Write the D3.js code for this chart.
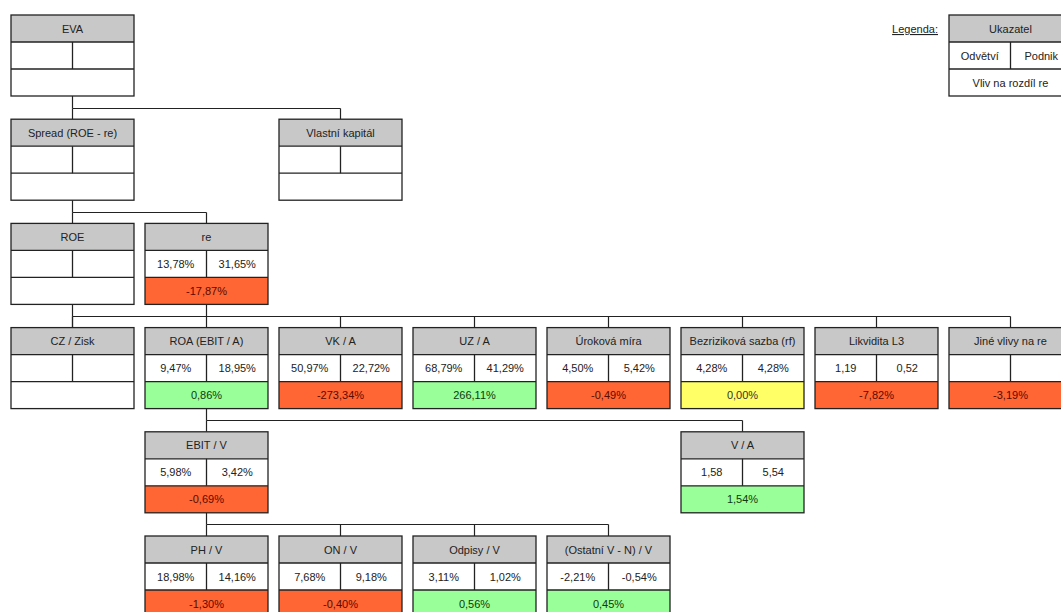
<!DOCTYPE html>
<html>
<head>
<meta charset="utf-8">
<script src="https://cdn.jsdelivr.net/npm/d3@7"></script>
<style>
  html, body { margin: 0; padding: 0; background: #fff; }
  svg { display: block; }
  text { font-family: "Liberation Sans", Arial, sans-serif; font-size: 11px; }
</style>
</head>
<body>
<svg id="chart" width="1061" height="612"></svg>
<script>
// ---- data ----
const ids      = ["EVA","SPREAD","VK","ROE","RE","CZ","ROA","VKA","UZA","URM","RF","L3","JINE","EBITV","VA","PHV","ONV","ODPV","OSTV"];
const labels   = ["EVA","Spread (ROE - re)","Vlastní kapitál","ROE","re","CZ / Zisk","ROA (EBIT / A)","VK / A","UZ / A","Úroková míra","Bezriziková sazba (rf)","Likvidita L3","Jiné vlivy na re","EBIT / V","V / A","PH / V","ON / V","Odpisy / V","(Ostatní V - N) / V"];
const columns  = [0,0,2,0,1,0,1,2,3,4,5,6,7,1,5,1,2,3,4];
const levels   = [0,1,1,2,2,3,3,3,3,3,3,3,3,4,4,5,5,5,5];
const odvetvi  = [null,null,null,null,13.78,null,9.47,50.97,68.79,4.50,4.28,1.19,null,5.98,1.58,18.98,7.68,3.11,-2.21];
const podnik   = [null,null,null,null,31.65,null,18.95,22.72,41.29,5.42,4.28,0.52,null,3.42,5.54,14.16,9.18,1.02,-0.54];
const isRatio  = [false,false,false,false,false,false,false,false,false,false,false,true,false,false,true,false,false,false,false];
const vliv     = [null,null,null,null,-17.87,null,0.86,-273.34,266.11,-0.49,0.00,-7.82,-3.19,-0.69,1.54,-1.30,-0.40,0.56,0.45];
// parent -> children connectors
const linkParents  = ["EVA","SPREAD","RE","ROE","ROA","EBITV"];
const linkChildren = [["SPREAD","VK"],["ROE","RE"],["CZ","ROA","VKA","UZA","URM","RF","L3","JINE"],["CZ"],["EBITV","VA"],["PHV","ONV","ODPV","OSTV"]];
// legend
const legendTitle = "Legenda:";
const legendCells = ["Ukazatel","Odvětví","Podnik","Vliv na rozdíl re"];

// ---- layout ----
const svg = d3.select("#chart");
const boxW = 123, rowH = 27, boxH = rowH * 3;
const x = d3.scaleLinear().domain([0, 7]).range([11, 949]);
const y = d3.scaleLinear().domain([0, 5]).range([15, 536]);

const locale = d3.formatLocale({decimal: ",", thousands: " ", grouping: [3], currency: ["", " Kč"], minus: "-"});
const fmt2 = locale.format(".2f");
const fmtPct = v => v == null ? "" : fmt2(v) + "%";

const colorFill = v => v == null ? "#ffffff" : (v < 0 ? "#ff6633" : (v > 0 ? "#99ff99" : "#ffff66"));
const colorText = v => v == null ? "#222" : (v < 0 ? "#5a0a00" : (v > 0 ? "#0f3a0f" : "#333"));

const nodes = ids.map((id, i) => ({
  id, label: labels[i], col: columns[i], lvl: levels[i],
  a: odvetvi[i] == null ? "" : (isRatio[i] ? fmt2(odvetvi[i]) : fmtPct(odvetvi[i])),
  b: podnik[i] == null ? "" : (isRatio[i] ? fmt2(podnik[i]) : fmtPct(podnik[i])),
  v: vliv[i]
}));
const byId = new Map(nodes.map(n => [n.id, n]));
const cx = n => x(n.col) + boxW / 2;

// connectors
const linkG = svg.append("g").attr("stroke", "#222").attr("stroke-width", 1.2).attr("fill", "none");
linkParents.forEach((pid, k) => {
  const p = byId.get(pid);
  const kids = linkChildren[k].map(c => byId.get(c));
  const pBottom = y(p.lvl) + boxH;
  const cTop = y(kids[0].lvl);
  const barY = Math.round((pBottom + cTop) / 2) + 0.5;
  linkG.append("line").attr("x1", cx(p)).attr("x2", cx(p)).attr("y1", pBottom).attr("y2", barY);
  const xs = kids.map(cx).concat([cx(p)]);
  linkG.append("line").attr("x1", d3.min(xs)).attr("x2", d3.max(xs)).attr("y1", barY).attr("y2", barY);
  kids.forEach(c => {
    linkG.append("line").attr("x1", cx(c)).attr("x2", cx(c)).attr("y1", barY).attr("y2", y(c.lvl));
  });
});

function drawBox(g, x0, y0, head, a, b, v, bottomText) {
  g.append("rect").attr("x", x0).attr("y", y0).attr("width", boxW).attr("height", rowH).attr("fill", "#c8c8c8");
  g.append("rect").attr("x", x0).attr("y", y0 + rowH).attr("width", boxW).attr("height", rowH).attr("fill", "#fff");
  g.append("rect").attr("x", x0).attr("y", y0 + 2 * rowH).attr("width", boxW).attr("height", rowH).attr("fill", colorFill(v));
  const ln = g.append("g").attr("stroke", "#222").attr("stroke-width", 1.3).attr("fill", "none");
  ln.append("rect").attr("x", x0).attr("y", y0).attr("width", boxW).attr("height", boxH);
  ln.append("line").attr("x1", x0).attr("x2", x0 + boxW).attr("y1", y0 + rowH).attr("y2", y0 + rowH);
  ln.append("line").attr("x1", x0).attr("x2", x0 + boxW).attr("y1", y0 + 2 * rowH).attr("y2", y0 + 2 * rowH);
  ln.append("line").attr("x1", x0 + boxW / 2).attr("x2", x0 + boxW / 2).attr("y1", y0 + rowH).attr("y2", y0 + 2 * rowH);
  g.append("text").attr("x", x0 + boxW / 2).attr("y", y0 + rowH / 2 + 4).attr("text-anchor", "middle").attr("fill", "#222").text(head);
  g.append("text").attr("x", x0 + boxW / 4).attr("y", y0 + rowH * 1.5 + 4).attr("text-anchor", "middle").attr("fill", "#222").text(a);
  g.append("text").attr("x", x0 + boxW * 3 / 4).attr("y", y0 + rowH * 1.5 + 4).attr("text-anchor", "middle").attr("fill", "#222").text(b);
  g.append("text").attr("x", x0 + boxW / 2).attr("y", y0 + rowH * 2.5 + 4).attr("text-anchor", "middle").attr("fill", colorText(v)).text(bottomText);
}

const boxG = svg.append("g");
nodes.forEach(n => {
  drawBox(boxG.append("g"), x(n.col), y(n.lvl), n.label, n.a, n.b, n.v, fmtPct(n.v));
});

// legend
const lg = svg.append("g");
drawBox(lg, x(7), y(0), legendCells[0], legendCells[1], legendCells[2], null, legendCells[3]);
lg.append("text").attr("x", 938).attr("y", 33).attr("text-anchor", "end").attr("fill", "#222")
  .attr("text-decoration", "underline").text(legendTitle);
</script>
</body>
</html>
